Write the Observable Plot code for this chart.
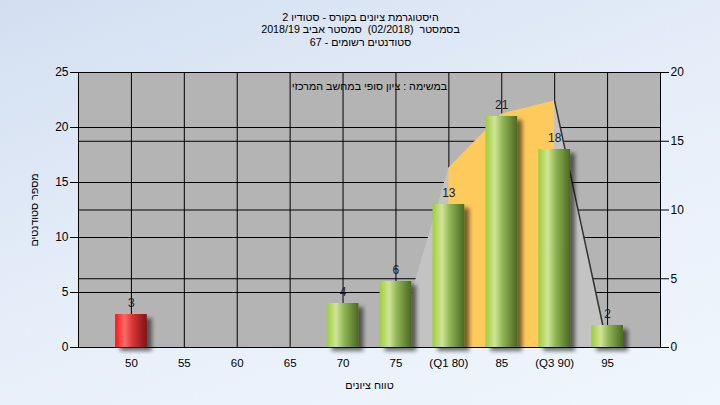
<!DOCTYPE html>
<html><head><meta charset="utf-8">
<script src="https://cdn.jsdelivr.net/npm/d3@7"></script>
<script src="https://cdn.jsdelivr.net/npm/@observablehq/plot@0.6"></script>
<style>
html,body{margin:0;padding:0;background:#e4edf8;}
svg text{white-space:pre;}
</style></head><body><div id="chart"></div>
<script>
// ---- data ----
const titleLines = ["היסטוגרמת ציונים בקורס - סטודיו 2", "בסמסטר  (02/2018)  סמסטר אביב 2018/19", "סטודנטים רשומים - 67"];
const taskNote = "במשימה : ציון סופי במחשב המרכזי";
const xTitle = "טווח ציונים";
const yTitle = "מספר סטודנטים";
const grades = [50, 55, 60, 65, 70, 75, 80, 85, 90, 95];
const tickLabels = ["50", "55", "60", "65", "70", "75", "(Q1 80)", "85", "(Q3 90)", "95"];
const counts = [3, 0, 0, 0, 4, 6, 13, 21, 18, 2];
const passGrade = 55;
const leftTicks = [0, 5, 10, 15, 20, 25];
const rightTicks = [0, 5, 10, 15, 20];
const leftMax = 25, rightMax = 20;
const xDomain = [45, 100];
const shapeX = [75, 80, 85, 90, 95];
const shapeY = [0, 16.3, 21.2, 22.4, 0];
const quartiles = [80, 90];

// ---- derived tables ----
const bars = grades.map((g, i) => ({g, n: counts[i]})).filter(d => d.n > 0);
const half = 1.5;
const shape = shapeX.map((x, i) => ({x, y: shapeY[i]}));
const iqr = shape.filter(d => d.x >= quartiles[0] && d.x <= quartiles[1]);
const tail = shape.filter(d => d.x >= quartiles[1]);
const toLeft = v => v * leftMax / rightMax;

const plot = Plot.plot({
  width: 720, height: 405,
  marginLeft: 78, marginRight: 60, marginTop: 72, marginBottom: 58,
  style: {background: "linear-gradient(160deg, #d3dff1 0%, #e6eef9 50%, #f0f6fd 100%)", fontFamily: "'Liberation Sans', Arial, sans-serif", fontSize: "11.5px", color: "black", overflow: "visible"},
  x: {domain: xDomain},
  y: {domain: [0, leftMax]},
  marks: [
    Plot.frame({fill: "#b4b4b4"}),
    Plot.ruleY(leftTicks, {stroke: "black", strokeWidth: 1}),
    Plot.ruleY(rightTicks.map(toLeft), {stroke: "black", strokeWidth: 1}),
    Plot.ruleX(grades, {stroke: "black", strokeWidth: 1}),
    Plot.areaY(shape, {x: "x", y: "y", fill: "#c3c3c3"}),
    Plot.areaY(iqr, {x: "x", y: "y", fill: "#ffca5c"}),
    Plot.line(tail, {x: "x", y: "y", stroke: "#333", strokeWidth: 1.5}),
    Plot.frame({stroke: "black"}),
    Plot.rectY(bars.filter(d => d.g >= passGrade), {x1: d => d.g - half, x2: d => d.g + half, y1: 0, y2: "n", fill: "url(#gGreen)", className: "bars"}),
    Plot.rectY(bars.filter(d => d.g < passGrade), {x1: d => d.g - half, x2: d => d.g + half, y1: 0, y2: "n", fill: "url(#gRed)", className: "bars"}),
    Plot.text(bars, {x: "g", y: "n", text: d => String(d.n), dy: -11, fill: "#1c1c2c", fontSize: 12}),
    Plot.axisY({ticks: leftTicks, tickSize: 8, tickPadding: 2, label: null, fontSize: 12}),
    Plot.axisY({anchor: "right", ticks: rightTicks.map(toLeft), tickFormat: d => String(Math.round(d * rightMax / leftMax)), tickSize: 8, tickPadding: 2, label: null, fontSize: 12}),
    Plot.axisX({ticks: grades, tickFormat: d => tickLabels[grades.indexOf(d)], tickSize: 0, tickPadding: 11, label: null, fontSize: 11.5}),
    Plot.text([taskNote], {frameAnchor: "top", lineAnchor: "middle", textAnchor: "middle", dy: 14, fontSize: 10.7}),
    Plot.text([xTitle], {frameAnchor: "bottom", lineAnchor: "middle", textAnchor: "middle", dy: 38, fontSize: 10.8}),
    Plot.text([yTitle], {frameAnchor: "left", textAnchor: "middle", lineAnchor: "middle", rotate: -90, dx: -44, fontSize: 10.7}),
    Plot.text([titleLines.join("\n")], {frameAnchor: "top", lineAnchor: "top", textAnchor: "middle", dx: -9, dy: -60, lineHeight: 1.14, fontSize: 10.7})
  ]
});

const svg = d3.select(plot);
svg.insert("defs", ":first-child").html(`
  <linearGradient id="gGreen" x1="0" x2="1" y1="0" y2="0">
    <stop offset="0" stop-color="#9fcd3b"/>
    <stop offset="0.3" stop-color="#cfe597"/>
    <stop offset="0.55" stop-color="#8fb454"/>
    <stop offset="1" stop-color="#4b6921"/>
  </linearGradient>
  <linearGradient id="gRed" x1="0" x2="1" y1="0" y2="0">
    <stop offset="0" stop-color="#ff1616"/>
    <stop offset="0.3" stop-color="#ff6a6a"/>
    <stop offset="0.55" stop-color="#d83535"/>
    <stop offset="1" stop-color="#7f1414"/>
  </linearGradient>
  <filter id="shadow" x="-30%" y="-10%" width="170%" height="130%">
    <feGaussianBlur in="SourceAlpha" stdDeviation="2"/>
    <feOffset dx="5" dy="4" result="o"/>
    <feComponentTransfer><feFuncA type="linear" slope="0.55"/></feComponentTransfer>
    <feMerge><feMergeNode/><feMergeNode in="SourceGraphic"/></feMerge>
  </filter>`);
svg.selectAll("g.bars, g[aria-label='rect']").attr("filter", "url(#shadow)");
document.getElementById("chart").appendChild(plot);
</script>
</body></html>
